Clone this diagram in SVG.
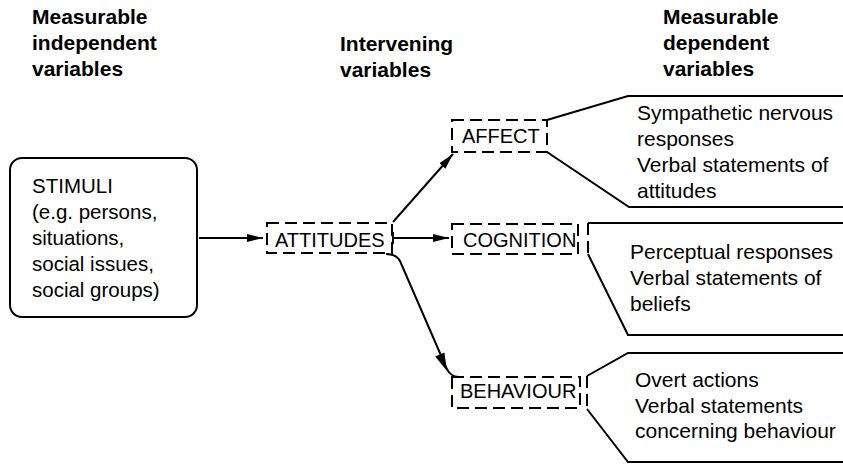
<svg xmlns="http://www.w3.org/2000/svg" width="843" height="464" viewBox="0 0 843 464">
  <defs>
    <style>
      .hdr { font-family: "Liberation Sans", Arial, sans-serif; font-weight: bold; font-size: 21px; fill: #000; }
      .lbl { font-family: "Liberation Sans", Arial, sans-serif; font-size: 20px; fill: #000; }
      .stim { font-family: "Liberation Sans", Arial, sans-serif; font-size: 20.5px; fill: #000; }
      .txt { font-family: "Liberation Sans", Arial, sans-serif; font-size: 21px; fill: #000; }
      .dash { fill: none; stroke: #000; stroke-width: 2; stroke-dasharray: 12 6; }
      .solid { fill: none; stroke: #000; stroke-width: 2; }
      .line { fill: none; stroke: #000; stroke-width: 2; }
    </style>
    <marker id="arrow" markerWidth="18" markerHeight="10" refX="16" refY="5" orient="auto" markerUnits="userSpaceOnUse">
      <path d="M0,1 L16,5 L0,9 Z" fill="#000"/>
    </marker>
  </defs>
  <rect width="843" height="464" fill="#fff"/>

  <!-- column headings -->
  <g id="heading-independent">
    <text class="hdr" x="32" y="24">Measurable</text>
    <text class="hdr" x="32" y="50">independent</text>
    <text class="hdr" x="32" y="76">variables</text>
  </g>
  <g id="heading-intervening">
    <text class="hdr" x="340" y="51">Intervening</text>
    <text class="hdr" x="340" y="77">variables</text>
  </g>
  <g id="heading-dependent">
    <text class="hdr" x="663" y="24">Measurable</text>
    <text class="hdr" x="663" y="50">dependent</text>
    <text class="hdr" x="663" y="76">variables</text>
  </g>

  <!-- stimuli box -->
  <g id="stimuli">
    <rect x="10" y="158" width="187" height="159" rx="12" class="solid"/>
    <text class="stim" x="32" y="193">STIMULI</text>
    <text class="stim" x="32" y="219">(e.g. persons,</text>
    <text class="stim" x="32" y="245">situations,</text>
    <text class="stim" x="32" y="271">social issues,</text>
    <text class="stim" x="32" y="297">social groups)</text>
  </g>

  <!-- intervening variables -->
  <g id="attitudes">
    <rect x="267" y="223" width="125" height="30" class="dash"/>
    <text class="lbl" x="275" y="247">ATTITUDES</text>
  </g>
  <g id="affect">
    <rect x="452" y="120" width="95" height="32" class="dash"/>
    <text class="lbl" x="462" y="143">AFFECT</text>
  </g>
  <g id="cognition">
    <rect x="452" y="224" width="126" height="30" class="dash"/>
    <text class="lbl" x="463" y="247">COGNITION</text>
  </g>
  <g id="behaviour">
    <rect x="452" y="377" width="128" height="31" class="dash"/>
    <text class="lbl" x="460" y="398">BEHAVIOUR</text>
  </g>

  <!-- measurable dependent variables -->
  <g id="affect-measures">
    <path class="solid" d="M547,120 L628,96 L843,96"/>
    <path class="solid" d="M547,152 L629,207 L843,207"/>
    <text class="txt" x="637" y="120">Sympathetic nervous</text>
    <text class="txt" x="637" y="146">responses</text>
    <text class="txt" x="637" y="172">Verbal statements of</text>
    <text class="txt" x="637" y="198">attitudes</text>
  </g>
  <g id="cognition-measures">
    <path class="solid" d="M588,223 L843,223"/>
    <path class="dash" d="M588,223 L588,254"/>
    <path class="solid" d="M588,254 L628,335 L843,335"/>
    <text class="txt" x="630" y="259">Perceptual responses</text>
    <text class="txt" x="630" y="285">Verbal statements of</text>
    <text class="txt" x="630" y="311">beliefs</text>
  </g>
  <g id="behaviour-measures">
    <path class="solid" d="M587,376 L628,353 L843,353"/>
    <path class="dash" d="M587,376 L587,409"/>
    <path class="solid" d="M587,409 L628,462 L843,462"/>
    <text class="txt" x="635" y="387">Overt actions</text>
    <text class="txt" x="635" y="413">Verbal statements</text>
    <text class="txt" x="635" y="438">concerning behaviour</text>
  </g>

  <!-- connectors -->
  <g id="connectors">
    <path class="line" d="M199,238 L263,238" marker-end="url(#arrow)"/>
    <path class="line" d="M393,232 L393,244"/>
    <path class="line" d="M393,238 L449,238" marker-end="url(#arrow)"/>
    <path class="line" d="M393,222 L453,154" marker-end="url(#arrow)"/>
    <path class="line" d="M386,254 Q396,254 400,261 L446,367 Q450,377 459,377"/>
    <path d="M447,371 L444.4,352.5 L435.2,356.5 Z" fill="#000"/>
  </g>
</svg>
